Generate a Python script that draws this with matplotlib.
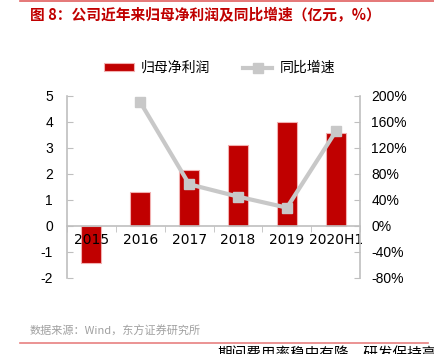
import matplotlib.pyplot as plt
import numpy as np

# 数据 ------------------------------
years = ["2015", "2016", "2017", "2018", "2019", "2020H1"]
profit = [-1.42, 1.29, 2.14, 3.10, 4.00, 3.58]      # 归母净利润（亿元）
growth = [np.nan, 190, 64, 45, 28, 145]              # 同比增速（%）
left_ticks = [-2, -1, 0, 1, 2, 3, 4, 5]
right_ticks = [-80, -40, 0, 40, 80, 120, 160, 200]

cjk = ["Noto Sans CJK SC", "DejaVu Sans"]
num = ["Liberation Sans", "Noto Sans CJK SC"]
red = "#c00000"
grey = "#c8c8c8"
axc = "#bfbfbf"

fig = plt.figure(figsize=(4.35, 3.54), dpi=100)
ax = fig.add_axes([0.154, 0.2147, 0.674, 0.515])
ax.set_axisbelow(False)  # 2015 标签画在柱子上面
x = np.arange(len(years))

bars = ax.bar(x, profit, width=0.41, color=red, edgecolor="#f2b0b0", linewidth=0.8,
              label="归母净利润", zorder=2)
ax.set_xlim(-0.5, len(years) - 0.5)
ax.set_ylim(-2, 5)
ax.set_yticks(left_ticks)
ax.set_yticklabels([str(t) for t in left_ticks], family=num, fontsize=10)

ax.set_xticks(x)
ax.set_xticklabels(years, family=num, fontsize=10)
ax.set_xticks(np.arange(len(years) + 1) - 0.5, minor=True)
ax.tick_params(axis="x", which="major", length=0, pad=5)
ax.tick_params(axis="x", which="minor", length=4, color=axc, direction="out")
ax.tick_params(axis="y", direction="in", length=4, color=axc, pad=10)

ax.spines["bottom"].set_position(("data", 0))
ax.spines["bottom"].set_color(axc)
ax.spines["left"].set_color(axc)
ax.spines["top"].set_visible(False)
ax.spines["right"].set_visible(False)
for s in ["bottom", "left"]:
    ax.spines[s].set_linewidth(1.2)

ax2 = ax.twinx()
line, = ax2.plot(x, growth, color=grey, lw=3, marker="s", markersize=7,
                 label="同比增速", zorder=3)
ax2.set_ylim(-80, 200)
ax2.set_yticks(right_ticks)
ax2.set_yticklabels([f"{t}%" for t in right_ticks], family=num, fontsize=10)
ax2.tick_params(axis="y", direction="in", length=4, color=axc, pad=8)
for s in ["top", "left", "bottom"]:
    ax2.spines[s].set_visible(False)
ax2.spines["right"].set_color(axc)
ax2.spines["right"].set_linewidth(1.2)

fig.legend([bars, line], ["归母净利润", "同比增速"], loc="center",
           bbox_to_anchor=(0.505, 0.808), ncol=2, frameon=False,
           prop={"family": cjk, "size": 10}, handlelength=2.1, handleheight=0.5,
           columnspacing=2.4, handletextpad=0.5)

# 标题 / 来源 / 装饰线
fig.add_artist(plt.Line2D([0.046, 1.0], [0.997, 0.997], color="#e06060", lw=1.2))
fig.text(0.069, 0.957, "图 8：公司近年来归母净利润及同比增速（亿元，%）", color=red,
         fontsize=10.6, fontweight="bold", family=cjk, va="center")
fig.text(0.069, 0.065, "数据来源：Wind，东方证券研究所", color="#a0a0a0",
         fontsize=8, family=cjk, va="center")
fig.add_artist(plt.Line2D([0.046, 0.985], [0.031, 0.031], color="#e88080", lw=1.2))
fig.text(0.5, 0.0, "期间费用率稳中有降，研发保持高", color="#000000", fontsize=10.5,
         family=cjk, va="center")

fig.savefig("out.png", dpi=100)
